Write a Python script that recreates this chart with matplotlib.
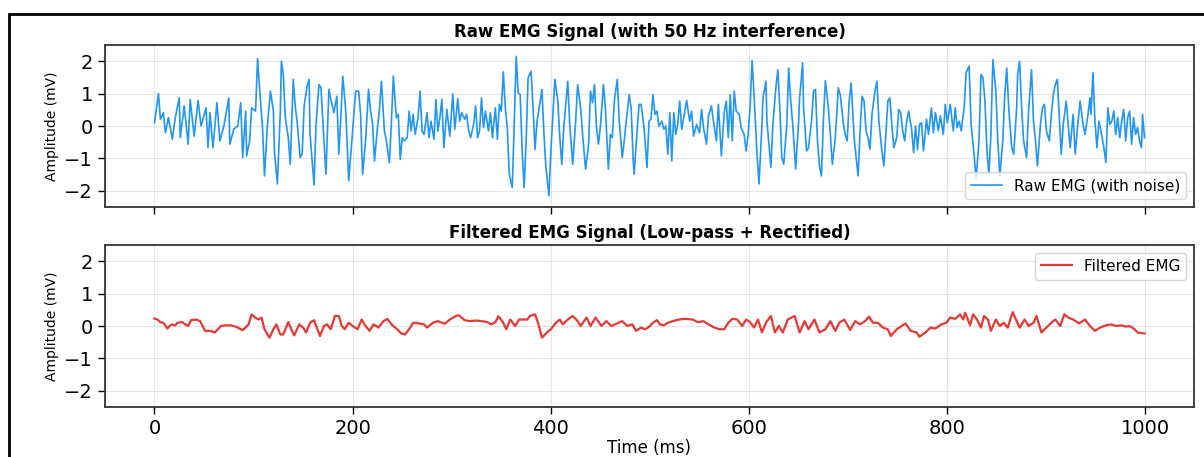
import matplotlib.pyplot as plt
from matplotlib.patches import Rectangle

# Raw EMG (ms, mV)
raw_t = [0, 4, 6, 9, 11, 14, 18, 21, 25, 26, 30, 34, 36, 40, 44, 47, 52, 54, 56, 59,
         63, 66, 70, 75, 76, 80, 84, 87, 89, 92, 93, 96, 98, 102, 104, 106, 109, 111, 114, 117,
         120, 121, 124, 127, 128, 130, 132, 135, 137, 140, 142, 144, 147, 149, 151, 154, 156, 157, 161, 163,
         166, 168, 171, 173, 176, 178, 181, 184, 186, 188, 190, 193, 196, 199, 203, 206, 208, 210, 213, 216,
         218, 220, 222, 225, 227, 229, 232, 234, 237, 239, 241, 244, 246, 248, 250, 252, 255, 257, 259, 261,
         263, 266, 268, 270, 272, 275, 277, 279, 282, 284, 286, 288, 290, 292, 295, 298, 301, 303, 306, 308,
         310, 313, 315, 317, 319, 322, 324, 326, 328, 330, 332, 334, 337, 339, 341, 344, 346, 348, 350, 352,
         354, 356, 358, 361, 363, 365, 367, 369, 371, 373, 375, 377, 380, 382, 384, 386, 389, 391, 393, 395,
         398, 400, 402, 404, 407, 409, 411, 413, 417, 419, 422, 425, 427, 430, 432, 435, 438, 440, 442, 444,
         446, 448, 450, 453, 455, 458, 460, 462, 464, 467, 469, 472, 474, 476, 479, 481, 483, 484, 487, 489,
         491, 494, 497, 499, 501, 503, 505, 507, 509, 512, 514, 516, 518, 520, 522, 524, 526, 528, 530, 532,
         534, 537, 540, 542, 544, 547, 550, 552, 554, 557, 559, 562, 564, 567, 569, 571, 572, 575, 577, 579,
         581, 583, 585, 587, 590, 592, 595, 597, 599, 601, 603, 605, 608, 610, 613, 614, 617, 618, 622, 624,
         627, 629, 631, 633, 635, 638, 640, 642, 644, 647, 650, 651, 654, 655, 658, 660, 663, 665, 667, 669,
         671, 673, 675, 677, 680, 682, 684, 687, 690, 692, 695, 697, 699, 701, 703, 706, 708, 710, 712, 714,
         716, 718, 720, 722, 724, 727, 729, 731, 734, 736, 738, 740, 742, 744, 746, 749, 751, 753, 755, 757,
         759, 761, 764, 766, 768, 770, 772, 774, 776, 779, 781, 784, 786, 788, 791, 793, 796, 798, 800, 803,
         806, 808, 810, 812, 814, 817, 819, 822, 824, 827, 829, 832, 834, 836, 838, 840, 842, 844, 846, 849,
         851, 853, 856, 858, 860, 862, 865, 867, 870, 871, 873, 875, 877, 880, 882, 885, 887, 889, 891, 894,
         896, 898, 900, 903, 905, 907, 909, 911, 913, 915, 917, 920, 922, 924, 927, 929, 932, 934, 937, 939,
         942, 944, 945, 947, 949, 951, 953, 955, 958, 960, 962, 964, 966, 968, 970, 972, 974, 976, 978, 980,
         982, 984, 986, 988, 990, 992, 994, 996, 997, 999]
raw_v = [0.10, 1.0, 0.21, 0.41, -0.21, 0.26, -0.41, 0.26, 0.87, -0.36, 0.62, -0.56, 0.82, -0.31, 0.79, 0.0, 0.56, -0.67, 0.41, -0.67,
         0.72, -0.46, 0.0, 0.87, -0.56, -0.10, 0.0, 0.72, -0.97, 0.46, -0.92, -0.46, 0.56, 0.46, 2.08, 1.18, -0.05, -1.54, 0.05, 1.08,
         0.46, -0.77, -1.79, 0.46, 2.0, 1.59, 0.26, -0.36, -1.18, 1.44, 0.62, 0.10, -0.97, -0.87, 0.62, 1.23, 1.44, -0.26, -1.82, 0.05,
         1.28, 1.18, -0.46, -1.49, 1.13, 0.82, 0.41, 0.92, -0.87, 0.26, 1.54, 0.46, -1.69, -0.5, 1.08, 1.08, 0.36, -1.49, -0.46, 1.13,
         0.46, 0.10, -1.08, -0.05, 0.51, 1.38, -0.15, -0.46, -1.13, 0.05, 1.54, 0.26, 0.36, -1.03, -0.36, -0.46, -0.36, 0.46, -0.15, 0.36,
         -0.26, 0.26, 1.08, -0.15, -0.26, 0.41, -0.36, 0.15, -0.41, 0.82, -0.15, 0.26, 0.82, -0.67, 0.51, -0.31, 0.99, -0.10, 0.85, 0.15,
         0.41, 0.21, 0.36, -0.15, -0.36, 0.05, 0.62, -0.36, -0.15, 0.87, -0.05, 0.46, -0.15, 0.41, -0.36, 0.56, -0.41, 0.67, 0.46, 1.67,
         0.56, -0.05, -1.49, -1.90, 0.05, 2.15, 1.03, 0.97, -0.77, -1.90, -0.46, 1.49, 1.69, 0.56, -0.72, 0.15, 0.72, 1.13, -0.26, -1.28,
         -2.15, -0.77, 0.36, 1.44, 0.77, -0.36, -1.18, -0.05, 1.38, 0.05, -1.18, 0.15, 1.28, 0.56, -0.26, -1.33, -0.6, 1.08, 0.72, 1.28,
         -0.05, -0.56, 0.0, 1.28, 0.56, -1.33, -0.26, -0.36, 0.77, 1.44, 0.15, -0.97, -0.46, 0.15, 0.97, 0.56, -1.03, -1.49, -0.15, 0.67,
         0.67, -0.05, -1.28, 0.15, 0.21, 0.97, 0.36, 0.46, 0.0, 0.15, -0.10, 0.0, -0.87, 0.41, -1.08, 0.41, -0.26, 0.05, 0.77, -0.10,
         0.26, 0.79, 0.15, 0.46, -0.31, 0.05, -0.21, 0.51, -0.05, -0.56, 0.31, 0.62, 0.15, -0.46, 0.67, -0.36, -0.92, 0.46, 0.77, -0.36,
         0.97, -0.46, 1.08, 0.46, 0.36, -0.05, -0.26, -0.77, -0.26, 0.56, 2.02, 0.97, -0.87, -1.79, 0.05, 0.87, 1.38, 0.15, -1.28, 0.05,
         1.18, 1.74, 0.56, -0.97, -1.18, 0.05, 1.79, 0.77, 0.05, -1.33, 0.15, 0.87, 1.95, 0.56, -0.77, -0.67, 0.15, 1.08, 1.13, -0.46,
         -1.23, -1.54, 0.2, 1.4, 0.56, -0.26, -1.18, -0.36, 1.18, 0.97, 0.10, -0.26, -0.46, 0.77, 1.33, -0.36, -0.97, -1.54, -0.15, 0.92,
         0.77, -0.15, -0.36, -0.72, 0.36, 1.08, 1.38, 0.15, -0.77, -1.23, -0.26, 0.77, 0.87, 0.05, -0.67, -0.36, 0.51, 0.41, -0.15, -0.46,
         0.15, 0.46, -0.10, -0.82, 0.0, -0.72, 0.05, 0.10, -0.77, 0.21, -0.26, 0.56, -0.21, 0.41, -0.15, 0.31, -0.26, 0.67, 0.10, 0.67,
         -0.15, 0.56, -0.05, 0.15, -0.15, 0.56, 1.64, 1.85, 0.05, -0.87, -1.64, -0.46, 1.59, 1.49, 0.77, -0.77, -1.49, -0.26, 2.05, 1.08,
         -0.46, -1.54, -0.46, 0.97, 1.79, 0.56, -0.67, -0.87, 0.56, 1.59, 2.0, 0.56, -0.46, -0.97, 0.46, 1.74, 0.15, -0.46, -1.23, 0.05,
         0.56, 0.67, -0.15, -0.46, 0.36, 0.97, 1.28, 1.44, 0.26, -0.87, 0.05, 0.77, 0.05, -0.67, 0.36, -0.87, 0.15, 0.77, 0.05, -0.26,
         0.36, 0.87, 0.36, 1.64, 0.15, -0.67, 0.15, -0.15, -0.67, -1.13, 0.56, 0.05, 0.15, 0.46, -0.26, 0.26, -0.36, 0.15, 0.51, -0.46,
         0.26, 0.46, -0.56, 0.26, -0.26, -0.05, -0.46, -0.67, 0.36, -0.36]

# Filtered EMG (ms, mV)
filt_t = [0, 3, 6, 9, 13, 17, 21, 23, 28, 31, 34, 37, 42, 46, 51, 56, 61, 67, 72, 77,
          82, 89, 95, 98, 102, 105, 108, 111, 116, 120, 123, 127, 130, 135, 138, 141, 146, 150, 153, 157,
          161, 167, 171, 174, 178, 182, 186, 189, 192, 196, 200, 205, 209, 213, 217, 221, 226, 231, 235, 240,
          245, 249, 253, 258, 261, 267, 272, 275, 281, 286, 290, 293, 298, 304, 307, 313, 318, 325, 330, 336,
          340, 344, 347, 351, 355, 359, 364, 368, 373, 376, 379, 384, 387, 391, 396, 400, 405, 409, 412, 417,
          422, 427, 430, 436, 440, 445, 451, 456, 461, 467, 472, 477, 482, 486, 491, 495, 498, 503, 507, 510,
          514, 518, 523, 529, 536, 543, 548, 554, 559, 565, 570, 575, 579, 583, 588, 593, 597, 601, 605, 609,
          613, 617, 622, 626, 630, 634, 639, 646, 651, 656, 660, 666, 671, 677, 682, 687, 691, 696, 702, 707,
          712, 717, 721, 725, 730, 735, 740, 743, 749, 754, 758, 763, 769, 772, 778, 783, 788, 794, 799, 803,
          808, 813, 816, 818, 823, 826, 830, 834, 837, 841, 844, 849, 853, 857, 861, 866, 870, 873, 878, 882,
          887, 890, 895, 900, 905, 909, 914, 918, 922, 927, 933, 939, 944, 949, 954, 960, 965, 970, 976, 980,
          984, 989, 992, 999]
filt_v = [0.23, 0.20, 0.12, 0.10, -0.08, 0.05, 0.02, 0.10, 0.12, 0.05, 0.0, 0.18, 0.20, 0.15, -0.15, -0.15, -0.20, 0.0, 0.02, 0.02,
          -0.02, -0.13, 0.05, 0.36, 0.25, 0.20, 0.26, -0.10, -0.36, -0.10, 0.05, -0.26, -0.26, 0.12, -0.10, -0.29, 0.05, -0.05, -0.20, 0.10,
          0.18, -0.31, 0.0, 0.05, -0.10, 0.31, 0.31, 0.0, -0.10, 0.10, 0.0, -0.10, 0.20, 0.0, -0.15, 0.05, -0.05, 0.15, 0.22, 0.02,
          -0.10, -0.23, -0.26, -0.05, 0.10, 0.08, 0.05, -0.05, 0.10, 0.15, 0.10, 0.07, 0.20, 0.31, 0.33, 0.18, 0.15, 0.17, 0.15, 0.12,
          0.05, 0.12, 0.30, 0.15, -0.10, 0.20, 0.0, 0.20, 0.20, 0.20, 0.31, 0.36, 0.10, -0.36, -0.20, -0.10, 0.10, 0.20, 0.05, 0.20,
          0.31, 0.15, 0.0, 0.26, 0.0, 0.26, 0.0, 0.15, 0.0, 0.08, 0.15, 0.0, 0.05, -0.15, -0.05, -0.10, -0.05, 0.10, 0.18, 0.05,
          0.02, 0.10, 0.15, 0.20, 0.22, 0.20, 0.12, 0.15, 0.05, -0.05, -0.10, -0.10, 0.10, 0.22, 0.20, 0.0, 0.20, 0.12, -0.05, 0.20,
          -0.20, 0.10, 0.31, -0.20, 0.0, -0.20, 0.20, 0.31, -0.20, 0.15, -0.10, 0.20, -0.20, -0.10, 0.15, -0.15, 0.10, 0.20, -0.12, 0.15,
          0.05, 0.15, 0.29, 0.10, 0.10, -0.05, -0.10, -0.31, -0.10, 0.0, 0.08, -0.15, -0.20, -0.33, -0.20, -0.05, -0.08, 0.05, 0.10, 0.26,
          0.22, 0.36, 0.20, 0.41, 0.02, 0.36, 0.20, -0.05, 0.31, 0.20, -0.15, 0.20, 0.0, 0.10, -0.05, 0.43, 0.15, -0.05, 0.20, 0.0,
          0.10, 0.31, -0.20, -0.05, 0.10, 0.20, 0.0, 0.36, 0.26, 0.20, 0.08, 0.20, 0.0, -0.15, -0.05, 0.02, 0.05, 0.0, 0.02, -0.02,
          0.0, -0.10, -0.20, -0.23]

fig = plt.figure(figsize=(12.04, 4.57), dpi=100)

ax1 = fig.add_axes([0.0872, 0.547, 0.9045, 0.3545])
ax2 = fig.add_axes([0.0872, 0.1094, 0.9045, 0.3545], sharex=ax1, sharey=ax1)

ax1.plot(raw_t, raw_v, color='#2196F3', lw=1.2, label='Raw EMG (with noise)')
ax2.plot(filt_t, filt_v, color='#E53935', lw=1.6, label='Filtered EMG')

ax1.set_title('Raw EMG Signal (with 50 Hz interference)', fontsize=12, fontweight='bold', pad=6)
ax2.set_title('Filtered EMG Signal (Low-pass + Rectified)', fontsize=12, fontweight='bold', pad=5)

for ax in (ax1, ax2):
    ax.set_ylabel('Amplitude (mV)', fontsize=10)
    ax.grid(True, color='#cccccc', alpha=0.5, lw=0.8)
    ax.tick_params(labelsize=14, length=5, width=1)
    for s in ax.spines.values():
        s.set_linewidth(1.3)
        s.set_color('#333333')

ax1.set_ylim(-2.5, 2.5)
ax1.set_yticks([-2, -1, 0, 1, 2])
ax1.set_xticks([0, 200, 400, 600, 800, 1000])
ax1.tick_params(labelbottom=False)
ax2.set_xlabel('Time (ms)', fontsize=12, labelpad=1)

ax1.legend(loc='lower right', fontsize=11)
ax2.legend(loc='upper right', fontsize=11)

fig.patches.append(Rectangle((8.5 / 1204, -0.1), 1.2, 1.1 - 14.5 / 457, transform=fig.transFigure,
                             fill=False, edgecolor='black', lw=2))

fig.savefig('out.png', dpi=100)
